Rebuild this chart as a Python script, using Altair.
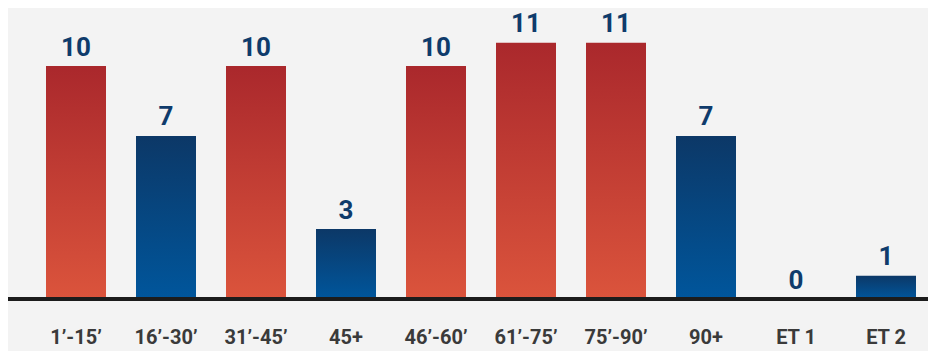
import altair as alt
import pandas as pd

periods = ["1’-15’", "16’-30’", "31’-45’", "45+", "46’-60’", "61’-75’", "75’-90’", "90+", "ET 1", "ET 2"]
goals = [10, 7, 10, 3, 10, 11, 11, 7, 0, 1]
kinds = ["red", "blue", "red", "blue", "red", "red", "red", "blue", "blue", "blue"]

df = pd.DataFrame({"period": periods, "goals": goals, "kind": kinds})

W = 920
H = 291

red_grad = alt.Gradient(
    gradient="linear", x1=0, x2=0, y1=0, y2=1,
    stops=[alt.GradientStop(offset=0, color="#aa282c"),
           alt.GradientStop(offset=1, color="#db543c")],
)
blue_grad = alt.Gradient(
    gradient="linear", x1=0, x2=0, y1=0, y2=1,
    stops=[alt.GradientStop(offset=0, color="#0c3867"),
           alt.GradientStop(offset=1, color="#00569c")],
)

x = alt.X(
    "period:N", sort=periods,
    scale=alt.Scale(range=[23, 923], paddingInner=1 / 3, paddingOuter=1 / 6),
    axis=alt.Axis(title=None, domain=False, ticks=False, grid=False, labelAngle=0,
                  labelFont="Roboto", labelFontWeight="bold", labelFontSize=20,
                  labelColor="#3a3a3a", labelPadding=38, labelBaseline="middle"),
)
y = alt.Y("goals:Q", scale=alt.Scale(domain=[0, 12.49]), axis=None)

base = alt.Chart(df)

red = base.transform_filter(alt.datum.kind == "red").mark_bar(fill=red_grad).encode(x=x, y=y)
blue = base.transform_filter(alt.datum.kind == "blue").mark_bar(fill=blue_grad).encode(x=x, y=y)

labels = base.mark_text(
    font="Roboto", fontWeight="bold", fontSize=26, color="#0f3b6b",
    baseline="alphabetic", dy=-10.5,
).encode(x=x, y=y, text="goals:Q")

baseline = alt.Chart(pd.DataFrame({"v": [0]})).mark_rule(
    color="#1c1c1c", strokeWidth=4
).encode(y=alt.Y("v:Q", scale=alt.Scale(domain=[0, 12.49]), axis=None),
         x=alt.value(0), x2=alt.value(W))

chart = alt.layer(red, blue, baseline, labels).properties(
    width=W, height=H, background="#f3f3f3",
    padding={"left": 0, "top": 0, "right": 0, "bottom": 52},
    autosize=alt.AutoSizeParams(type="none"),
).configure_view(stroke=None)

chart.save("out.html", embed_options={"renderer": "svg", "actions": False})
